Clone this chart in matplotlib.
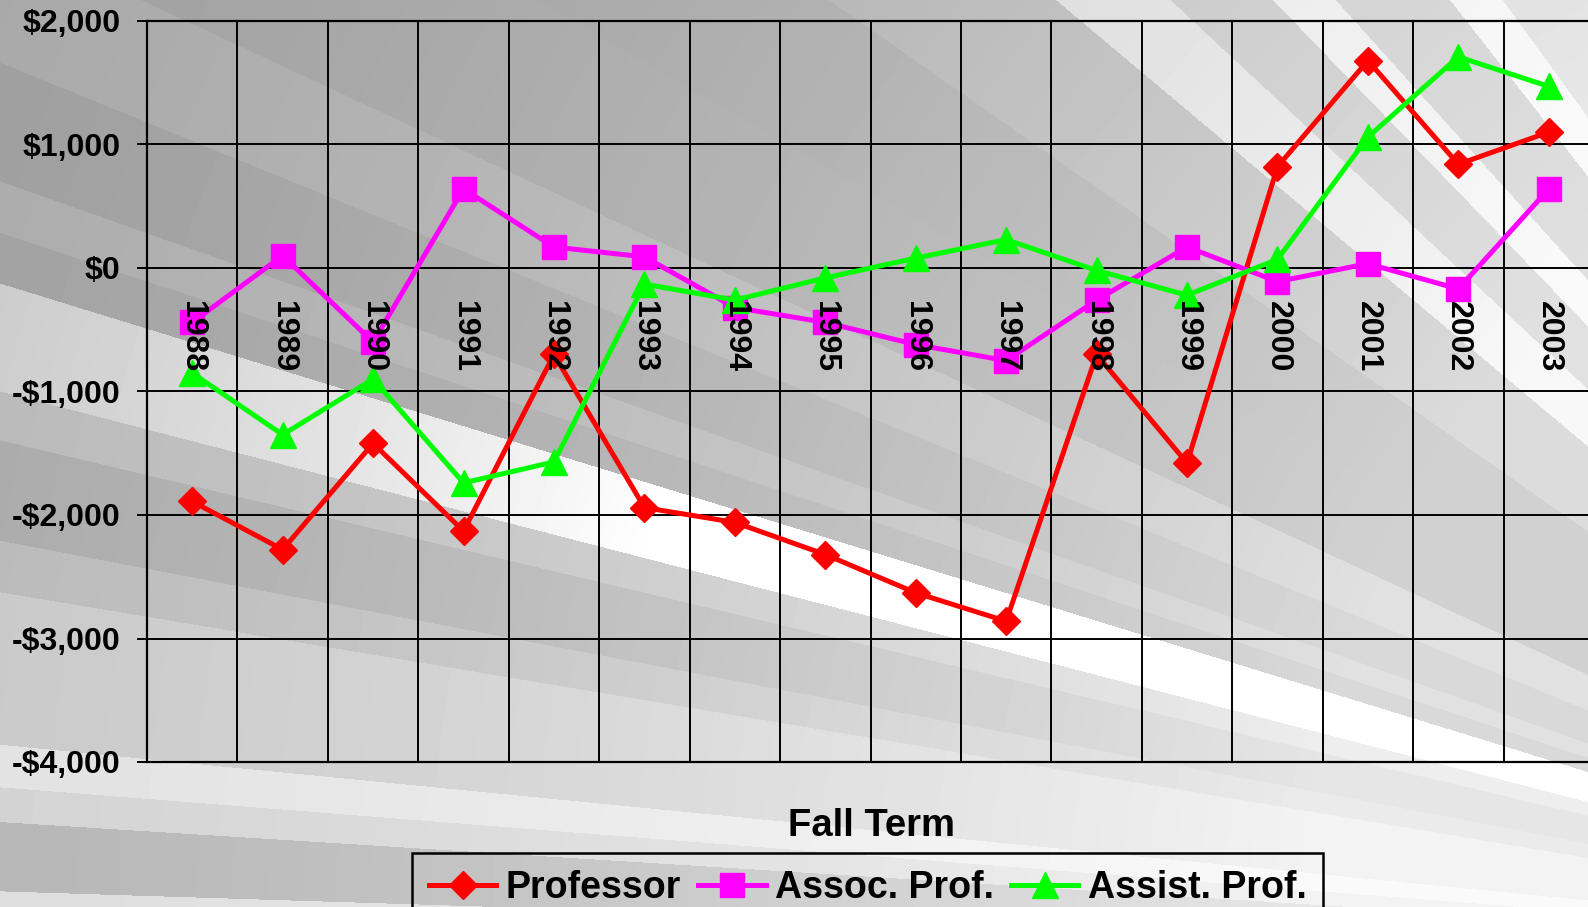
import numpy as np
import matplotlib
matplotlib.use("Agg")
import matplotlib.pyplot as plt
from matplotlib.lines import Line2D

# data (salary difference, $)
years = ["1988", "1989", "1990", "1991", "1992", "1993", "1994", "1995",
         "1996", "1997", "1998", "1999", "2000", "2001", "2002", "2003"]
professor = [-1890, -2280, -1420, -2130, -700, -1940, -2060, -2320,
             -2630, -2860, -700, -1580, 820, 1680, 840, 1100]
assoc_prof = [-440, 100, -600, 640, 170, 90, -320, -440,
              -620, -750, -260, 170, -110, 35, -170, 640]
assist_prof = [-850, -1350, -900, -1740, -1570, -130, -260, -80,
               80, 230, -20, -220, 70, 1060, 1710, 1470]
yticks = [2000, 1000, 0, -1000, -2000, -3000, -4000]
ytick_labels = ["$2,000", "$1,000", "$0", "-$1,000", "-$2,000", "-$3,000", "-$4,000"]

W, H = 1588, 907
fig = plt.figure(figsize=(W / 100, H / 100), dpi=100)

# background: grey rays fanning out from a point off the lower right
# (angle from, angle to, grey far away, grey close, reach)
bands = [(0, 1.8, .86, .97, 1600), (1.8, 3.6, .70, .90, 1600), (3.6, 4.5, .82, .95, 1600),
         (4.5, 5.6, .88, .98, 1600), (5.6, 9.5, .78, .95, 1600), (9.5, 10.8, .72, .92, 1600),
         (10.8, 13.3, .66, .90, 1600), (13.3, 14.5, .72, .93, 1600), (14.5, 17.1, .78, 1.0, 900),
         (17.1, 18.3, .63, .85, 1600), (18.3, 19.5, .67, .88, 1600), (19.5, 22.2, .62, .85, 1600),
         (22.2, 25, .66, .88, 1600), (25, 30, .63, .82, 1600), (30, 35, .62, .82, 1600),
         (35, 40, .64, .86, 1600), (40, 43, .78, .97, 1600), (43, 46, .70, .88, 1600),
         (46, 48, .85, .98, 1600), (48, 52, .74, .88, 1600), (52, 54, .88, .99, 1600),
         (54, 90, .80, .92, 1600)]
yy, xx = np.mgrid[0:H, 0:W]
fx, fy = 2200.0, 960.0
ang = np.degrees(np.arctan2(fy - yy, fx - xx))
dist = np.hypot(fx - xx, fy - yy)
bg = np.full((H, W), 0.8)
for a0, a1, far, near, reach in bands:
    m = (ang >= a0) & (ang < a1)
    t = np.clip((2500 - dist[m]) / reach, 0, 1) ** 1.5
    bg[m] = far + (near - far) * t
bax = fig.add_axes([0, 0, 1, 1], zorder=-5)
bax.imshow(bg, cmap="gray", vmin=0, vmax=1, aspect="auto", interpolation="bilinear")
bax.axis("off")

left, top, bottom, right = 147, 21, 762, 1594
ax = fig.add_axes([left / W, 1 - bottom / H, (right - left) / W, (bottom - top) / H])
ax.set_facecolor("none")

x = np.arange(len(years))
ax.plot(x, professor, color="#ff0000", lw=3.6, marker="D", ms=14, zorder=3)
ax.plot(x, assoc_prof, color="#ff00ff", lw=3.6, marker="s", ms=17, zorder=3)
ax.plot(x, assist_prof, color="#00ff00", lw=3.6, marker="^", ms=19, zorder=3)

ax.set_xlim(-0.5, len(years) - 0.5)
ax.set_ylim(-4000, 2000)
ax.set_xticks(np.arange(-0.5, len(years), 1))
ax.set_xticklabels([])
ax.tick_params(axis="x", length=0)
ax.set_yticks(yticks)
ax.set_yticklabels(ytick_labels, fontsize=23, fontweight="bold", family="Liberation Sans")
ax.tick_params(axis="y", length=7, width=1.4, pad=12)
ax.grid(True, color="black", lw=1.4, zorder=1)
for s in ax.spines.values():
    s.set_color("black")
    s.set_linewidth(1.6)

for i, yr in enumerate(years):
    ax.annotate(yr, (i, 0), xytext=(0, -24), textcoords="offset points",
                ha="center", va="top", rotation=-90, fontsize=23,
                fontweight="bold", family="Liberation Sans", zorder=5)

fig.text(871 / W, 1 - 826 / H, "Fall Term", ha="center", va="center",
         fontsize=27.5, fontweight="bold", family="Liberation Sans")

handles = [Line2D([], [], color="#ff0000", lw=3.6, marker="D", ms=14),
           Line2D([], [], color="#ff00ff", lw=3.6, marker="s", ms=17),
           Line2D([], [], color="#00ff00", lw=3.6, marker="^", ms=19)]
leg = fig.legend(handles, ["Professor", "Assoc. Prof.", "Assist. Prof."],
                 loc="upper left", bbox_to_anchor=(412 / W, 1 - 853 / H), ncol=3,
                 prop={"family": "Liberation Sans", "weight": "bold", "size": 27},
                 handlelength=1.8, handletextpad=0.25, columnspacing=0.45,
                 borderpad=0.45, borderaxespad=0, fancybox=False)
frame = leg.get_frame()
frame.set_alpha(1)
frame.set_facecolor("none")
frame.set_edgecolor("black")
frame.set_linewidth(1.8)

fig.savefig("out.png", dpi=100)
